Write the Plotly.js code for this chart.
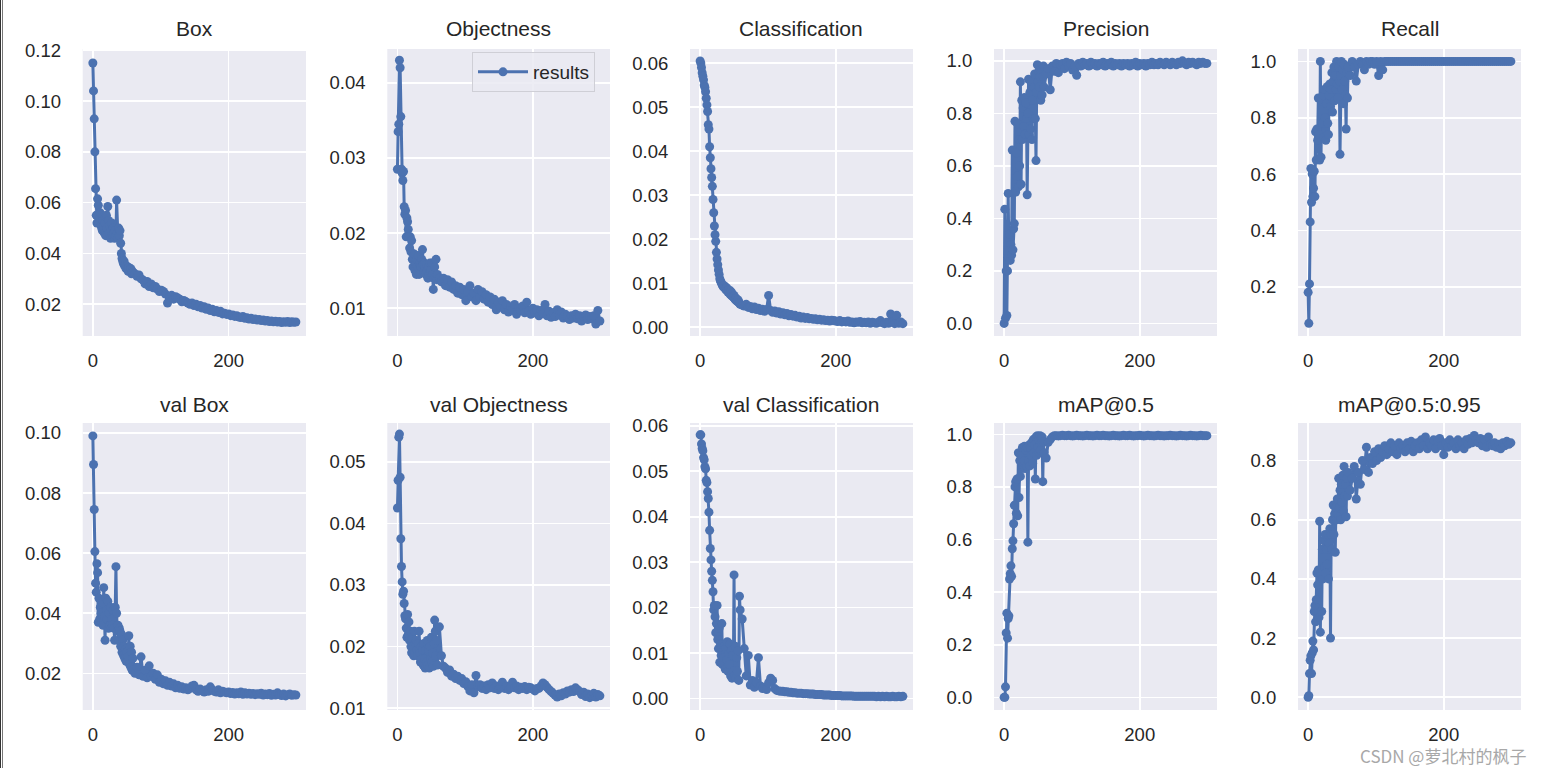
<!DOCTYPE html>
<html><head><meta charset="utf-8">
<script src="https://cdn.plot.ly/plotly-3.0.1.min.js"></script>
<style>html,body{margin:0;padding:0;background:#fff;overflow:hidden}#chart{width:1544px;height:768px}</style>
</head><body><div id="chart"></div>
<script>
const epochs = [
0,1,2,3,4,5,6,7,8,9,
10,11,12,13,14,15,16,17,18,19,
20,21,22,23,24,25,26,27,28,29,
30,31,32,33,34,35,36,37,38,39,
40,41,42,43,44,45,46,47,48,49,
50,51,52,53,54,55,56,57,58,59,
62,65,68,71,74,77,80,83,86,89,
92,95,98,101,104,107,110,113,116,119,
122,125,128,131,134,137,140,143,146,149,
152,155,158,161,164,167,170,173,176,179,
182,185,188,191,194,197,200,203,206,209,
212,215,218,221,224,227,230,233,236,239,
242,245,248,251,254,257,260,263,266,269,
272,275,278,281,284,287,290,293,296,299];

const titles = ["Box","Objectness","Classification","Precision","Recall",
  "val Box","val Objectness","val Classification","mAP@0.5","mAP@0.5:0.95"];

const trainBox = [
.115,.104,.093,.080,.0655,.055,.052,.0615,.059,.052,
.054,.056,.051,.050,.049,.053,.0505,.048,.052,.047,
.055,.050,.0585,.053,.048,.051,.046,.049,.052,.047,
.050,.048,.046,.049,.047,.061,.048,.046,.050,.047,
.049,.044,.040,.038,.037,.036,.037,.035,.0355,.034,
.035,.034,.033,.0345,.0335,.033,.034,.032,.033,.0325,
.032,.031,.0315,.030,.0295,.028,.029,.027,.028,.0265,
.027,.026,.025,.0255,.025,.024,.0205,.023,.0235,.022,
.023,.0225,.022,.021,.0215,.021,.0205,.020,.0205,.0195,
.020,.019,.0195,.0185,.019,.018,.0185,.0175,.018,.017,
.0175,.0168,.0172,.0162,.0165,.016,.0162,.0155,.0158,.0152,
.0155,.015,.0148,.0152,.0145,.0147,.0142,.0145,.014,.0142,
.0138,.014,.0136,.0138,.0134,.0136,.0132,.0134,.0131,.0133,
.013,.0132,.0128,.0131,.0129,.0132,.0128,.0131,.0129,.013];

const trainObj = [
.0285,.0335,.0345,.043,.042,.0355,.0285,.028,.027,.0282,
.0235,.0225,.023,.0195,.022,.0215,.0205,.0195,.018,.0195,
.0175,.019,.0165,.0155,.0165,.0172,.015,.016,.0145,.0165,
.0155,.017,.0145,.016,.0155,.0155,.0165,.0178,.0158,.0148,
.016,.0155,.0145,.0158,.015,.014,.0155,.0145,.016,.0148,
.0152,.016,.0145,.0125,.014,.0155,.0142,.0165,.0138,.0145,
.014,.0135,.014,.013,.0138,.0128,.0135,.0125,.013,.012,
.0128,.0118,.0125,.011,.0122,.013,.0115,.012,.011,.0125,
.0115,.0122,.0112,.0118,.0108,.0115,.0105,.0112,.0098,.0108,
.0102,.011,.0098,.0105,.0095,.0102,.0098,.0105,.0092,.010,
.0097,.0103,.0094,.0108,.0096,.0092,.010,.0094,.0098,.009,
.0097,.0093,.0105,.009,.0096,.0088,.0094,.0089,.0098,.0091,
.0095,.0087,.0092,.0089,.0085,.009,.0087,.0092,.0086,.009,
.0083,.0089,.0091,.0085,.0089,.0086,.009,.0079,.0097,.0083];

const trainCls = [
.0605,.060,.059,.0578,.057,.0562,.055,.0545,.0535,.052,
.0505,.049,.046,.045,.041,.0385,.036,.034,.032,.029,
.026,.023,.021,.0195,.017,.0155,.0142,.013,.012,.011,
.0105,.0102,.0098,.0095,.0092,.0095,.009,.0088,.0085,.009,
.0083,.008,.0085,.0078,.0075,.0082,.0072,.0078,.007,.0068,
.0072,.0065,.0062,.0066,.006,.0058,.0062,.0056,.0055,.0052,
.005,.0048,.0052,.0045,.0047,.0042,.0046,.004,.0043,.0038,
.0041,.0036,.004,.0072,.0038,.0034,.0037,.0032,.0035,.003,
.0033,.0028,.0031,.0026,.0029,.0025,.0027,.0023,.0025,.0021,
.0023,.002,.0022,.0019,.002,.0018,.0019,.0017,.0018,.0016,
.0017,.0015,.0016,.0014,.0016,.0015,.0014,.0013,.0015,.0012,
.0013,.0012,.0014,.0011,.0012,.001,.0012,.0011,.0013,.001,
.0011,.001,.0012,.0009,.0011,.001,.0009,.0011,.0015,.001,
.0008,.0011,.0009,.003,.0012,.0008,.0027,.0009,.0012,.0008];

const precision = [
0,.435,.02,.20,.03,.20,.495,.25,.34,.24,
.30,.26,.66,.28,.36,.38,.77,.50,.65,.56,
.76,.52,.70,.60,.92,.53,.85,.70,.82,.75,
.86,.72,.84,.78,.49,.80,.93,.72,.88,.74,
.92,.70,.85,.78,.90,.95,.78,.62,.88,.985,
.92,.96,.90,.94,.85,.96,.87,.94,.98,.90,
.95,.97,.89,.98,.96,.99,.955,.985,.99,.97,
.995,.98,.99,.965,.98,.945,.99,.98,.995,.985,
.99,.98,.995,.985,.99,.98,.99,.985,.995,.98,
.99,.985,.995,.98,.99,.985,.99,.98,.99,.985,
.99,.98,.99,.985,.995,.98,.99,.985,.99,.98,
.99,.985,.995,.985,.99,.985,.995,.99,.985,.995,
.99,.985,.995,.99,.985,.995,.99,1.0,.99,.985,
.995,.99,.995,.99,.985,.995,.99,.995,.99,.99];

const recall = [
.18,.07,.21,.43,.62,.50,.60,.52,.55,.61,
.52,.75,.65,.76,.72,.87,.74,.65,1.0,.66,
.86,.78,.88,.73,.90,.80,.72,.85,.91,.78,
.74,.88,.92,.84,.90,.96,.82,.93,.98,.86,
.95,.90,1.0,.92,.87,.98,.93,.67,.95,1.0,
.90,.97,.85,.99,.93,.88,.76,.96,.87,.98,
.95,1.0,.98,.93,.99,1.0,.99,.97,1.0,.99,
1.0,1.0,.99,1.0,.95,1.0,.97,1.0,1.0,1.0,
1.0,1.0,1.0,1.0,1.0,1.0,1.0,1.0,1.0,1.0,
1.0,1.0,1.0,1.0,1.0,1.0,1.0,1.0,1.0,1.0,
1.0,1.0,1.0,1.0,1.0,1.0,1.0,1.0,1.0,1.0,
1.0,1.0,1.0,1.0,1.0,1.0,1.0,1.0,1.0,1.0,
1.0,1.0,1.0,1.0,1.0,1.0,1.0,1.0,1.0,1.0,
1.0,1.0,1.0,1.0,1.0,1.0,1.0,1.0,1.0,1.0];

const valBox = [
.099,.0895,.0745,.0605,.050,.047,.0565,.0535,.037,.045,
.038,.042,.040,.037,.0435,.036,.0485,.039,.031,.045,
.041,.038,.044,.035,.040,.036,.042,.0365,.038,.036,
.041,.035,.031,.042,.0555,.040,.034,.036,.031,.035,
.034,.029,.033,.027,.031,.026,.029,.025,.028,.024,
.027,.024,.0255,.0325,.023,.029,.022,.027,.021,.025,
.020,.022,.0195,.0255,.019,.021,.0185,.0225,.019,.020,
.018,.0195,.017,.018,.0165,.0175,.016,.017,.0158,.0165,
.0152,.016,.015,.0155,.0148,.0152,.0145,.015,.0158,.016,
.0145,.014,.0148,.0142,.0138,.0145,.014,.0155,.0145,.014,
.0138,.0145,.0135,.014,.0138,.0135,.0138,.0133,.0136,.0131,
.0135,.0132,.0138,.013,.0135,.0131,.0134,.013,.0133,.0129,
.0132,.013,.0134,.0128,.0131,.0129,.0133,.0127,.013,.0128,
.0135,.0129,.0126,.0131,.0125,.0129,.0131,.0127,.0129,.0128];

const valObj = [
.0425,.047,.054,.0545,.0475,.0375,.033,.0305,.0285,.029,
.027,.025,.0245,.023,.0215,.0252,.022,.024,.021,.0225,
.020,.019,.0215,.020,.0185,.0225,.019,.0205,.021,.0195,
.0185,.0205,.0225,.019,.0175,.020,.018,.0195,.017,.0205,
.018,.0165,.0195,.0175,.021,.017,.0195,.0165,.020,.018,
.0215,.0175,.019,.0168,.0205,.0243,.0225,.0185,.021,.017,
.0232,.0185,.0168,.0165,.0158,.0162,.0152,.0155,.0148,.0152,
.0145,.0148,.014,.0143,.0135,.0128,.0138,.0125,.0153,.0135,
.0138,.0132,.0136,.013,.0138,.0133,.0141,.0132,.0136,.013,
.0135,.0142,.0132,.0136,.013,.0134,.0142,.0133,.0136,.013,
.0134,.0132,.0135,.013,.0134,.0133,.0131,.0128,.0132,.0132,
.0136,.0141,.0138,.0134,.013,.0127,.0124,.0121,.0118,.0123,
.012,.0125,.0123,.0128,.0126,.013,.0127,.0133,.013,.0127,
.0122,.0126,.0119,.0123,.0117,.0121,.0124,.0118,.0122,.012];

const valCls = [
.058,.058,.056,.055,.0545,.053,.0525,.051,.0505,.048,
.0475,.0455,.044,.041,.037,.033,.0305,.028,.026,.0235,
.0195,.0205,.018,.0145,.0165,.0205,.013,.011,.0155,.008,
.012,.0095,.0165,.0075,.012,.009,.0115,.0065,.011,.0085,
.0125,.006,.010,.0075,.012,.005,.0105,.0045,.0095,.006,
.0272,.005,.0115,.0045,.009,.006,.0105,.004,.0225,.0195,
.0175,.011,.005,.0095,.003,.004,.0025,.0035,.009,.0028,
.0022,.0025,.002,.0035,.0045,.004,.0022,.0018,.0017,.0016,
.0016,.0015,.0015,.0014,.0014,.0013,.0013,.0012,.0012,.0012,
.0011,.0011,.0011,.001,.001,.001,.0009,.0009,.0009,.0009,
.0008,.0008,.0008,.0008,.0007,.0007,.0007,.0007,.0007,.0006,
.0006,.0006,.0006,.0006,.0006,.0005,.0005,.0005,.0005,.0005,
.0005,.0005,.0005,.0005,.0005,.0005,.0004,.0005,.0004,.0005,
.0004,.0005,.0004,.0004,.0005,.0004,.0004,.0005,.0004,.0005];

const map50 = [
0,0,.04,.245,.32,.225,.30,.31,.45,.47,
.50,.46,.565,.595,.66,.73,.80,.82,.70,.83,
.69,.93,.76,.90,.84,.92,.87,.95,.88,.90,
.955,.87,.94,.88,.95,.59,.90,.96,.88,.95,
.92,.97,.89,.98,.93,.96,.83,.99,.92,.995,
.95,.98,.93,.995,.94,.97,.99,.82,.97,.93,
.91,.97,.98,.99,.995,.995,.994,.995,.996,.995,
.995,.996,.995,.994,.995,.996,.995,.995,.994,.995,
.996,.995,.995,.994,.995,.996,.995,.995,.996,.995,
.995,.994,.995,.996,.995,.995,.994,.995,.996,.995,
.995,.996,.995,.994,.995,.995,.996,.995,.994,.995,
.996,.995,.995,.994,.995,.996,.995,.995,.994,.995,
.995,.996,.995,.995,.994,.995,.996,.995,.995,.994,
.995,.996,.995,.995,.994,.995,.996,.995,.995,.995];

const map5095 = [
0,.005,.08,.125,.14,.08,.15,.19,.16,.29,
.31,.255,.33,.42,.38,.43,.27,.595,.22,.42,
.29,.50,.40,.53,.44,.55,.42,.50,.45,.55,
.40,.52,.57,.20,.55,.50,.60,.65,.55,.62,
.49,.64,.60,.67,.62,.74,.64,.70,.60,.72,
.66,.75,.63,.78,.68,.72,.61,.74,.68,.76,
.70,.74,.78,.67,.76,.72,.80,.77,.845,.76,
.81,.79,.83,.80,.84,.81,.83,.85,.82,.84,
.86,.83,.85,.82,.86,.84,.85,.83,.86,.84,
.865,.83,.85,.86,.84,.87,.85,.88,.84,.86,
.85,.87,.84,.865,.875,.85,.82,.86,.845,.87,
.85,.86,.84,.87,.85,.86,.84,.87,.855,.875,
.86,.885,.87,.86,.875,.85,.87,.845,.88,.855,
.85,.86,.845,.855,.84,.86,.85,.865,.855,.86];

const seriesList = [trainBox, trainObj, trainCls, precision, recall,
  valBox, valObj, valCls, map50, map5095];

const xTickLabels = ["0","200"];
const yTickLabels = [
  ["0.02","0.04","0.06","0.08","0.10","0.12"],
  ["0.01","0.02","0.03","0.04"],
  ["0.00","0.01","0.02","0.03","0.04","0.05","0.06"],
  ["0.0","0.2","0.4","0.6","0.8","1.0"],
  ["0.2","0.4","0.6","0.8","1.0"],
  ["0.02","0.04","0.06","0.08","0.10"],
  ["0.01","0.02","0.03","0.04","0.05"],
  ["0.00","0.01","0.02","0.03","0.04","0.05","0.06"],
  ["0.0","0.2","0.4","0.6","0.8","1.0"],
  ["0.0","0.2","0.4","0.6","0.8"]
];

// view settings
const yRanges = [
  [0.0075,0.1205],[0.0063,0.0445],[-0.002,0.0632],[-0.048,1.045],[0.025,1.044],
  [0.0078,0.1033],[0.0097,0.0563],[-0.0025,0.0606],[-0.048,1.043],[-0.043,0.927]
];
const xRange = [-14.95,313.95];
const W = 1544, H = 768;
const colPx = [[82.7,306],[387.3,610],[690,913],[994,1217],[1298,1521]];
const rowPx = [[49,336],[423,710]];
const titleYpx = [29,404];
const FONT = "Liberation Sans, Arial, Helvetica, sans-serif";
const TXT = "#262626";
const BLUE = "#4C72B0";

const traces = [];
const layout = {
  width: W, height: H,
  margin: {l:0,r:0,t:0,b:0},
  paper_bgcolor: "#ffffff",
  plot_bgcolor: "#EAEAF2",
  showlegend: true,
  font: {family: FONT, color: TXT, size: 18.5},
  legend: {
    x: 472/W, xanchor: "left", y: 1-52/H, yanchor: "top",
    bgcolor: "rgba(234,234,242,0.85)", bordercolor: "#cfcfd6", borderwidth: 1,
    itemwidth: 50,
    font: {family: FONT, size: 19, color: TXT}
  },
  annotations: [],
  shapes: [
    {type:"rect", xref:"paper", yref:"paper", x0:0, x1:1/W, y0:0, y1:1, fillcolor:"#333", line:{width:0}},
    {type:"rect", xref:"paper", yref:"paper", x0:2/W, x1:3/W, y0:0, y1:1, fillcolor:"#777", line:{width:0}}
  ]
};

for (let i = 0; i < 10; i++) {
  const r = Math.floor(i/5), c = i % 5;
  const xs = i === 0 ? "" : String(i+1);
  traces.push({
    type: "scatter", mode: "lines+markers",
    x: epochs, y: seriesList[i],
    xaxis: "x"+xs, yaxis: "y"+xs,
    name: "results", showlegend: i === 1,
    line: {color: BLUE, width: 3},
    marker: {color: BLUE, size: 9},
    hoverinfo: "skip"
  });
  const common = {
    showgrid: true, gridcolor: "#ffffff", gridwidth: 1.6,
    zeroline: false, showline: false, automargin: false,
    ticks: "outside", tickcolor: "rgba(0,0,0,0)",
    tickfont: {family: FONT, size: 18.5, color: TXT},
    fixedrange: true
  };
  layout["xaxis"+xs] = Object.assign({}, common, {
    domain: [colPx[c][0]/W, colPx[c][1]/W],
    anchor: "y"+xs, range: xRange,
    tickmode: "array", tickvals: xTickLabels.map(Number), ticktext: xTickLabels,
    ticklen: 8
  });
  layout["yaxis"+xs] = Object.assign({}, common, {
    domain: [1-rowPx[r][1]/H, 1-rowPx[r][0]/H],
    anchor: "x"+xs, range: yRanges[i],
    tickmode: "array", tickvals: yTickLabels[i].map(Number), ticktext: yTickLabels[i],
    ticklen: 17
  });
  layout.annotations.push({
    xref: "paper", yref: "paper",
    x: (colPx[c][0]+colPx[c][1])/2/W, y: 1-titleYpx[r]/H,
    xanchor: "center", yanchor: "middle", showarrow: false,
    text: titles[i], font: {family: FONT, size: 21, color: TXT}
  });
}
layout.annotations.push({
  xref: "paper", yref: "paper", x: 1528/W, y: 1-755/H,
  xanchor: "right", yanchor: "middle", showarrow: false,
  text: "CSDN @萝北村的枫子",
  font: {family: "Noto Sans CJK SC, sans-serif", size: 17, color: "#a8a8a8"}
});

Plotly.newPlot("chart", traces, layout, {displayModeBar: false, staticPlot: true});
</script>
</body></html>
